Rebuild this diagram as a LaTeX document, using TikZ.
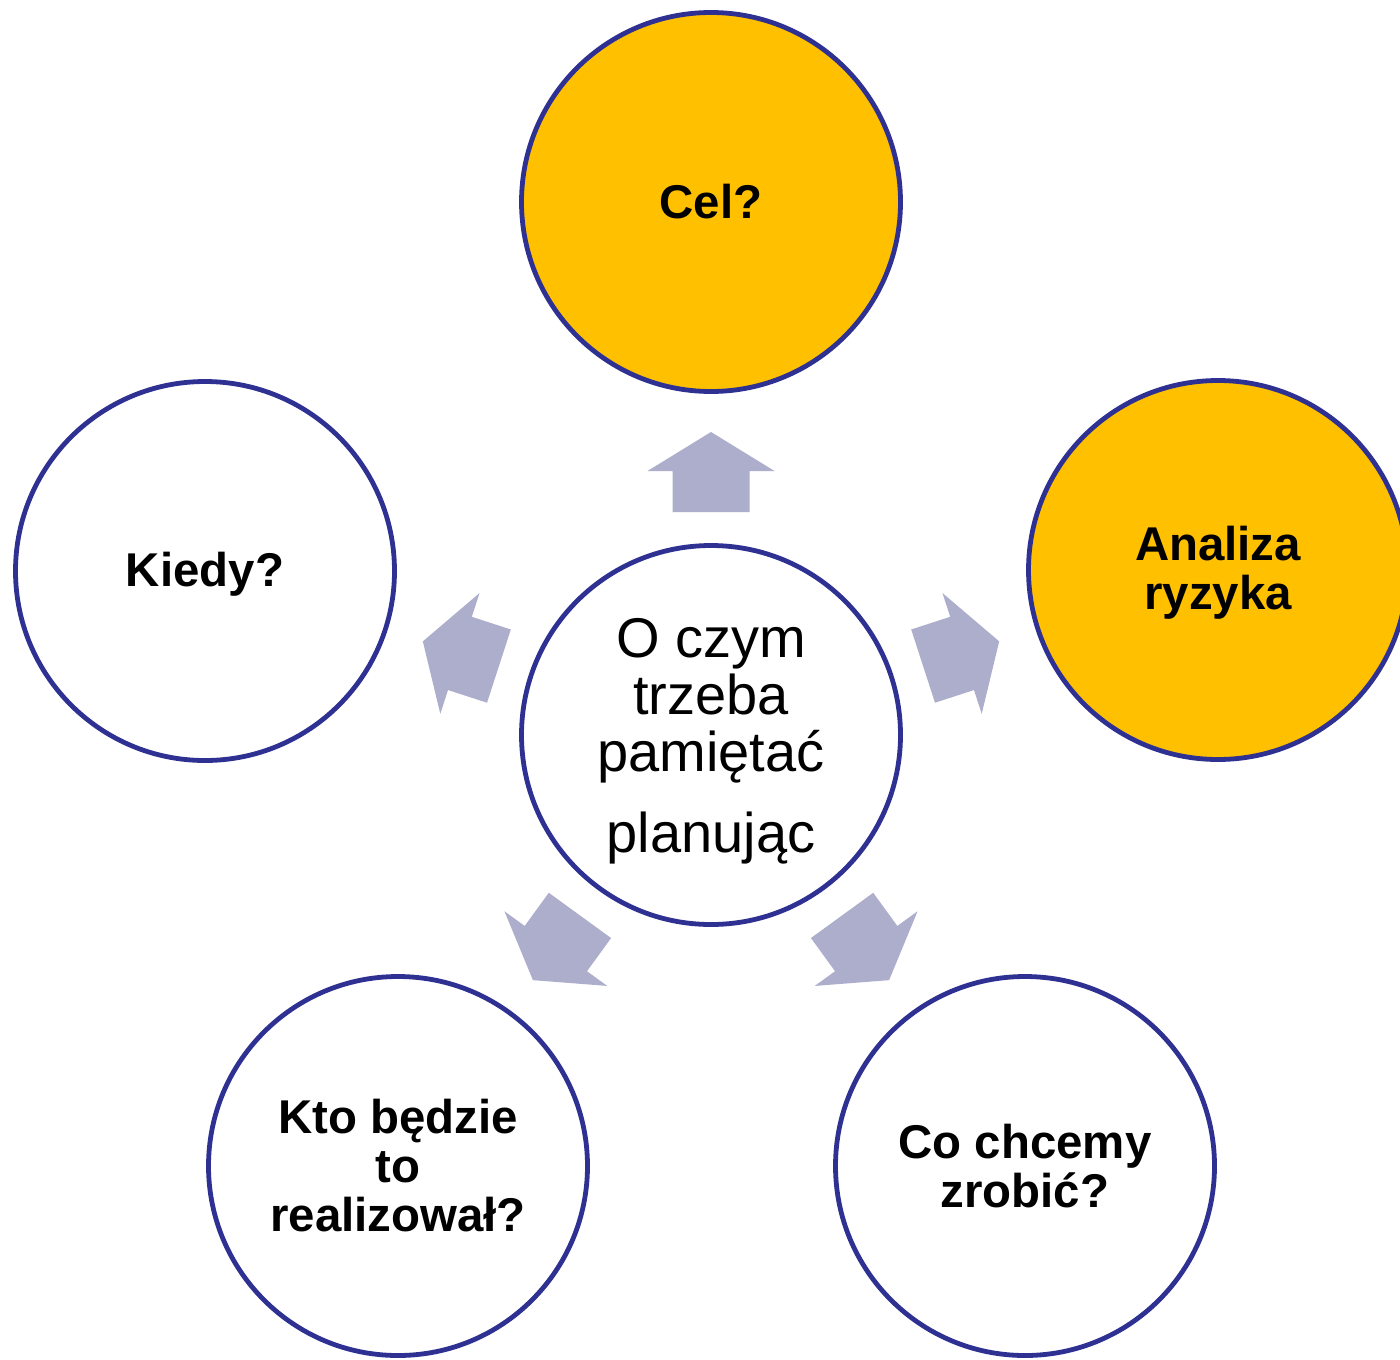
\documentclass[tikz,border=0pt]{standalone}
\usepackage{fontspec}
\setmainfont{Liberation Sans}
\definecolor{ringblue}{HTML}{2E3192}
\definecolor{gold}{HTML}{FFC000}
\definecolor{arrowgrey}{HTML}{ADADCC}
\begin{document}
\begin{tikzpicture}[x=0.5pt,y=-0.5pt,
  bubble/.style={circle, draw=ringblue, line width=2.4pt, fill=white,
    minimum size=189.5pt, inner sep=0pt, align=center,
    font=\fontsize{23.7}{24.5}\selectfont\bfseries},
  hub/.style={bubble, font=\fontsize{28}{28.5}\selectfont},
  goldbubble/.style={bubble, fill=gold},
  blockarrow/.style={fill=arrowgrey}]
\useasboundingbox (0,0) rectangle (1400,1359);
\clip (0,0) rectangle (1400,1359);
\fill[white] (0,0) rectangle (1400,1359);

\node[hub] (ctr) at (711,735) {\rule{0pt}{26pt}O czym\\trzeba\\pamiętać\\[12pt]planując};
\node[goldbubble] (cel) at (711,202) {Cel?};
\node[goldbubble] (ryzyko) at (1218,570) {\rule{0pt}{20pt}Analiza\\ryzyka};
\node[bubble] (kiedy) at (205,571) {\rule{0pt}{20pt}Kiedy?};
\node[bubble] (kto) at (398,1166) {Kto będzie\\to\\realizował?};
\node[bubble] (co) at (1025,1166) {Co chcemy\\zrobić?};

\foreach \a in {90,18,-54,-126,162}{
  \fill[blockarrow, shift={(ctr.center)}, rotate=\a]
    (223,-38.5) -- (264,-38.5) -- (264,-63.5) -- (303,0) --
    (264,63.5) -- (264,38.5) -- (223,38.5) -- cycle;
}
\end{tikzpicture}
\end{document}
